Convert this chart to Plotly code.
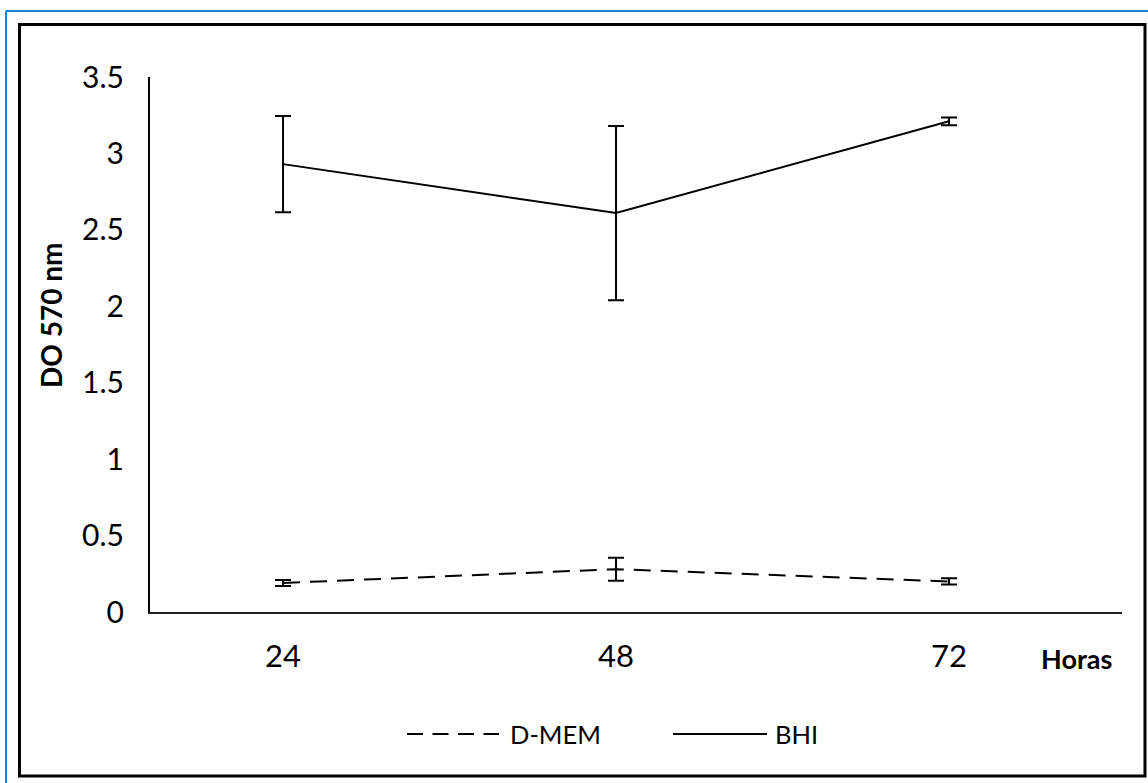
import plotly.graph_objects as go

# Incubation times (hours)
horas = [24, 48, 72]

# Optical density at 570 nm, mean and error per medium
dmem = [0.19, 0.28, 0.20]
dmem_err = [0.02, 0.075, 0.02]
bhi = [2.93, 2.61, 3.21]
bhi_err = [0.315, 0.57, 0.025]

y_ticks = [0, 0.5, 1, 1.5, 2, 2.5, 3, 3.5]
y_tick_text = ["0", "0.5", "1", "1.5", "2", "2.5", "3", "3.5"]

W, H = 1148, 783
L, R, T, B = 150, 26, 77, 171
PW, PH = W - L - R, H - T - B


def px(x):
    return (x - L) / PW


def py(y):
    return (H - B - y) / PH


FONT = "Lato"

fig = go.Figure()

fig.add_trace(go.Scatter(
    x=horas, y=dmem, mode="lines", name="D-MEM",
    line=dict(color="black", width=2, dash="17px,10px"),
    error_y=dict(type="data", array=dmem_err, visible=True,
                 color="black", thickness=2, width=8),
    showlegend=False,
))
fig.add_trace(go.Scatter(
    x=horas, y=bhi, mode="lines", name="BHI",
    line=dict(color="black", width=2),
    error_y=dict(type="data", array=bhi_err, visible=True,
                 color="black", thickness=2, width=8),
    showlegend=False,
))

shapes = [
    # outer blue frame (top and left edges)
    dict(type="line", xref="paper", yref="paper", x0=px(6), x1=px(W + 5),
         y0=py(11), y1=py(11), line=dict(color="#1f80d6", width=2)),
    dict(type="line", xref="paper", yref="paper", x0=px(6), x1=px(6),
         y0=py(11), y1=py(H + 5), line=dict(color="#1f80d6", width=2)),
    # black chart-area frame
    dict(type="rect", xref="paper", yref="paper", x0=px(19.5), x1=px(1145),
         y0=py(776), y1=py(24.5), line=dict(color="black", width=3)),
    # legend samples
    dict(type="line", xref="paper", yref="paper", x0=px(407), x1=px(499),
         y0=py(734), y1=py(734), line=dict(color="black", width=2, dash="16px,9.5px")),
    dict(type="line", xref="paper", yref="paper", x0=px(673), x1=px(767),
         y0=py(734), y1=py(734), line=dict(color="black", width=2)),
]

annotations = [
    dict(text="<b>DO 570 nm</b>", xref="paper", yref="paper", x=px(51), y=py(315),
         textangle=-90, showarrow=False, font=dict(family=FONT, size=28, color="black"),
         xanchor="center", yanchor="middle"),
    dict(text="<b>Horas</b>", xref="paper", yref="paper", x=px(1076), y=py(658),
         showarrow=False, font=dict(family=FONT, size=27, color="black"),
         xanchor="center", yanchor="middle"),
    dict(text="D-MEM", xref="paper", yref="paper", x=px(508), y=py(734),
         showarrow=False, font=dict(family=FONT, size=25.5, color="black"),
         xanchor="left", yanchor="middle"),
    dict(text="BHI", xref="paper", yref="paper", x=px(773), y=py(734),
         showarrow=False, font=dict(family=FONT, size=25.5, color="black"),
         xanchor="left", yanchor="middle"),
]

fig.update_layout(
    width=W, height=H,
    margin=dict(l=L, r=R, t=T, b=B),
    paper_bgcolor="white", plot_bgcolor="white",
    font=dict(family=FONT, size=26, color="black"),
    shapes=shapes, annotations=annotations,
    xaxis=dict(
        range=[14.41, 84.47], tickvals=horas, ticktext=[str(h) for h in horas],
        showgrid=False, zeroline=False, showline=True, linecolor="#222", linewidth=2,
        ticks="", ticklabelstandoff=16, tickfont=dict(family=FONT, size=31),
    ),
    yaxis=dict(
        range=[0, 3.5], tickvals=y_ticks, ticktext=y_tick_text,
        showgrid=False, zeroline=False, showline=True, linecolor="black", linewidth=2,
        ticks="", ticklabelstandoff=18, tickfont=dict(family=FONT, size=30),
    ),
)

fig.write_html("out.html")
